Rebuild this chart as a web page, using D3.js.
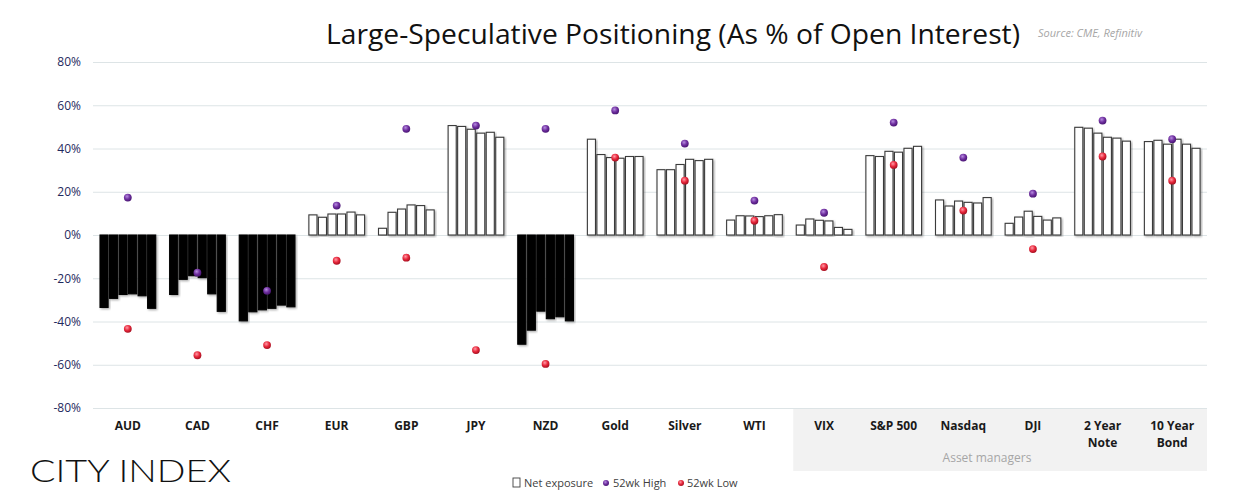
<!DOCTYPE html>
<html>
<head>
<meta charset="utf-8">
<script src="https://cdn.jsdelivr.net/npm/d3@7"></script>
<style>
  body { margin: 0; background: #fff; }
  svg { display: block; font-family: "Open Sans", sans-serif; }
</style>
</head>
<body>
<svg width="1246" height="503"></svg>
<script>
// categories on the x axis
const categories = ['AUD', 'CAD', 'CHF', 'EUR', 'GBP', 'JPY', 'NZD', 'Gold', 'Silver', 'WTI',
  'VIX', 'S&P 500', 'Nasdaq', 'DJI', '2 Year Note', '10 Year Bond']

// net exposure, last six weeks per category (% of open interest)
const netExposure = [
  [-33.5, -29.3, -27.5, -27.2, -28.1, -33.9],
  [-27.5, -20.5, -18.8, -19.7, -27.2, -35.3],
  [-39.7, -35.5, -34.6, -33.9, -32.4, -33.2],
  [9.3, 8.2, 9.7, 9.7, 10.6, 9.3],
  [3.1, 10.5, 12.0, 13.9, 13.6, 11.6],
  [50.6, 50.2, 48.9, 47.1, 47.5, 45.2],
  [-50.5, -44.0, -35.2, -38.7, -37.8, -39.7],
  [44.3, 37.2, 35.8, 35.5, 36.3, 36.3],
  [30.2, 30.2, 32.6, 35.0, 34.4, 35.0],
  [6.9, 8.9, 8.8, 8.5, 8.9, 9.4],
  [4.6, 7.4, 6.8, 6.5, 3.5, 2.6],
  [36.7, 36.3, 38.7, 38.3, 40.1, 41.0],
  [16.2, 13.4, 15.7, 15.1, 14.8, 17.3],
  [5.4, 8.3, 11.0, 8.6, 6.9, 7.9],
  [49.8, 49.4, 47.1, 45.2, 44.8, 43.4],
  [43.2, 43.8, 42.0, 44.3, 42.0, 40.1]
]

const high52 = [17.3, -17.4, -25.8, 13.6, 49.1, 50.6, 49.1, 57.6, 42.3, 15.9, 10.3, 52.0, 35.8, 19.1, 52.9, 44.3]
const low52 = [-43.4, -55.6, -50.9, -11.9, -10.5, -53.2, -59.6, 35.8, 25.1, 6.6, -14.8, 32.4, 11.3, -6.5, 36.3, 25.1]

const yTicks = [-80, -60, -40, -20, 0, 20, 40, 60, 80]
const assetManagers = ['VIX', 'S&P 500', 'Nasdaq', 'DJI', '2 Year Note', '10 Year Bond']

const svg = d3.select('svg')
const plotLeft = 93, plotRight = 1207, plotTop = 62, plotBottom = 408

const x = d3.scaleBand().domain(categories).range([plotLeft, plotRight])
const xi = d3.scaleBand().domain(d3.range(6)).range([7, 62.7]).paddingInner(0.15)
const y = d3.scaleLinear().domain([-80, 80]).range([plotBottom, plotTop])

const defs = svg.append('defs')
const shadow = defs.append('filter').attr('id', 'shadow')
  .attr('x', '-30%').attr('y', '-10%').attr('width', '160%').attr('height', '120%')
shadow.append('feDropShadow').attr('dx', 1.2).attr('dy', 1.2)
  .attr('stdDeviation', 0.9).attr('flood-color', '#000').attr('flood-opacity', 0.35)

function ball(id, light, mid, dark) {
  const g = defs.append('radialGradient').attr('id', id)
    .attr('cx', '40%').attr('cy', '35%').attr('r', '65%')
  g.append('stop').attr('offset', '0%').attr('stop-color', light)
  g.append('stop').attr('offset', '55%').attr('stop-color', mid)
  g.append('stop').attr('offset', '100%').attr('stop-color', dark)
}
ball('purpleBall', '#b68ce0', '#7030a0', '#4a1675')
ball('redBall', '#ff9aa6', '#e8283c', '#a80f20')

// asset managers shaded box
const amStart = x(assetManagers[0])
svg.append('rect')
  .attr('x', amStart + 4).attr('y', plotBottom)
  .attr('width', plotRight - amStart - 4).attr('height', 63)
  .attr('fill', '#f2f2f2')
svg.append('text')
  .attr('x', 987).attr('y', 462)
  .attr('text-anchor', 'middle')
  .attr('font-size', 12).attr('fill', '#a6a6a6')
  .text('Asset managers')

// y axis + gridlines
const yAxis = svg.append('g')
  .attr('transform', `translate(${plotLeft},0)`)
  .call(d3.axisLeft(y).tickValues(yTicks).tickSize(-(plotRight - plotLeft)).tickPadding(12).tickFormat(d => d + '%'))
yAxis.select('.domain').remove()
yAxis.selectAll('line').attr('stroke', '#dde4e6').attr('stroke-width', 1)
yAxis.selectAll('text').attr('fill', '#1f2a5e').attr('font-size', 12)
  .attr('font-family', '"Open Sans", sans-serif')

// bars
const groups = svg.append('g').selectAll('g')
  .data(categories)
  .join('g')
  .attr('transform', d => `translate(${x(d)},0)`)

groups.selectAll('rect')
  .data((d, i) => netExposure[i])
  .join('rect')
  .attr('x', (d, j) => xi(j))
  .attr('width', xi.bandwidth())
  .attr('y', d => y(Math.max(0, d)))
  .attr('height', d => Math.abs(y(d) - y(0)))
  .attr('fill', d => d < 0 ? '#050505' : '#fff')
  .attr('stroke', d => d < 0 ? '#050505' : '#3a3a3a')
  .attr('stroke-width', 1.1)
  .attr('filter', 'url(#shadow)')

// 52wk markers
const cx = d => x(d) + x.bandwidth() / 2
svg.append('g').selectAll('circle')
  .data(categories)
  .join('circle')
  .attr('cx', cx)
  .attr('cy', (d, i) => y(high52[i]))
  .attr('r', 3.9)
  .attr('fill', 'url(#purpleBall)')

svg.append('g').selectAll('circle')
  .data(categories)
  .join('circle')
  .attr('cx', cx)
  .attr('cy', (d, i) => y(low52[i]))
  .attr('r', 3.9)
  .attr('fill', 'url(#redBall)')

// category labels
const labels = svg.append('g').selectAll('text')
  .data(categories)
  .join('text')
  .attr('x', cx)
  .attr('y', 430)
  .attr('text-anchor', 'middle')
  .attr('font-size', 12).attr('font-weight', 700).attr('fill', '#1a1a1a')
labels.each(function (d) {
  const words = d.match(/^(\d+ Year) (.+)$/)
  const t = d3.select(this)
  if (words) {
    t.append('tspan').attr('x', cx(d)).text(words[1])
    t.append('tspan').attr('x', cx(d)).attr('dy', 17).text(words[2])
  } else {
    t.text(d)
  }
})

// title + source
svg.append('text')
  .attr('x', 326).attr('y', 44)
  .attr('font-size', 27).attr('fill', '#111')
  .attr('textLength', 694).attr('lengthAdjust', 'spacingAndGlyphs')
  .text('Large-Speculative Positioning (As % of Open Interest)')
svg.append('text')
  .attr('x', 1038).attr('y', 37)
  .attr('font-size', 11).attr('font-style', 'italic').attr('fill', '#a6a6a6')
  .text('Source: CME, Refinitiv')

// logo
svg.append('text')
  .attr('x', 30).attr('y', 482)
  .attr('font-family', 'Lato, sans-serif').attr('font-weight', 300)
  .attr('font-size', 32).attr('fill', '#111')
  .attr('textLength', 201).attr('lengthAdjust', 'spacingAndGlyphs')
  .text('CITY INDEX')

// legend
const legend = svg.append('g').attr('font-size', 11).attr('fill', '#404040')
legend.append('rect').attr('x', 513).attr('y', 478).attr('width', 7).attr('height', 9)
  .attr('fill', '#fff').attr('stroke', '#404040').attr('stroke-width', 0.9)
legend.append('text').attr('x', 524).attr('y', 487).text('Net exposure')
legend.append('circle').attr('cx', 606).attr('cy', 483).attr('r', 3).attr('fill', 'url(#purpleBall)')
legend.append('text').attr('x', 613).attr('y', 487).text('52wk High')
legend.append('circle').attr('cx', 681).attr('cy', 483).attr('r', 3).attr('fill', 'url(#redBall)')
legend.append('text').attr('x', 687).attr('y', 487).text('52wk Low')
</script>
</body>
</html>
